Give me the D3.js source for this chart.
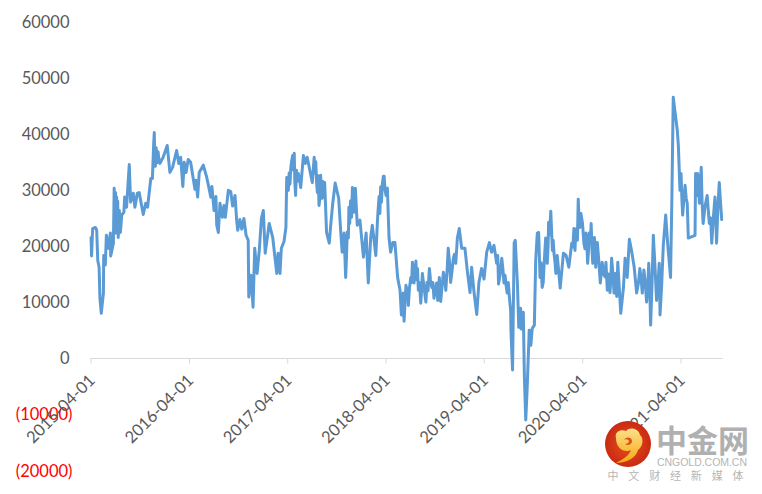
<!DOCTYPE html>
<html>
<head>
<meta charset="utf-8">
<script src="https://cdn.jsdelivr.net/npm/d3@7"></script>
<style>
html,body{margin:0;padding:0;background:#fff;}
svg{display:block;}
</style>
</head>
<body>
<svg id="chart" width="762" height="494"></svg>
<script>
const startDate = "2015-04-01";
const lastAxisDay = 2348;
const tickDates = ["2015-04-01","2016-04-01","2017-04-01","2018-04-01","2019-04-01","2020-04-01","2021-04-01"];
const yTicks = [-20000,-10000,0,10000,20000,30000,40000,50000,60000];
// days since startDate
const dayOffsets = [2,4,8,18,23,27,32,35,40,48,49,55,59,66,74,75,85,88,95,97,103,107,111,116,124,127,134,144,149,159,165,174,181,196,205,212,224,230,237,241,251,258,270,285,295,305,320,328,335,343,348,355,363,372,388,392,398,404,419,432,447,451,459,466,469,475,481,490,496,501,512,521,528,537,543,547,555,562,570,578,586,588,596,604,610,619,627,635,642,649,664,677,692,697,704,709,719,726,729,735,744,751,757,762,772,781,791,798,805,824,831,840,849,855,861,870,877,887,893,900,909,922,931,935,942,948,958,960,970,973,979,984,991,1001,1014,1024,1032,1041,1047,1060,1067,1072,1075,1088,1091,1098,1103,1109,1115,1123,1131,1141,1150,1155,1162,1165,1172,1181,1190,1196,1202,1209,1218,1227,1233,1246,1259,1268,1276,1286,1290,1296,1301,1311,1320,1329,1338,1348,1357,1363,1370,1379,1391,1401,1410,1416,1425,1435,1443,1453,1462,1472,1482,1490,1499,1509,1513,1516,1528,1536,1540,1548,1552,1561,1562,1568,1574,1578,1586,1591,1598,1600,1608,1612,1617,1622,1630,1636,1641,1649,1654,1660,1665,1670,1678,1686,1691,1697,1702,1710,1716,1722,1729,1734,1745,1757,1767,1777,1788,1796,1800,1806,1812,1818,1822,1833,1841,1847,1853,1860,1866,1872,1877,1883,1894,1901,1908,1915,1920,1930,1936,1945,1949,1955,1959,1970,1980,1986,1994,2002,2010,2020,2029,2041,2050,2056,2066,2074,2081,2091,2103,2113,2116,2128,2137,2144,2155,2160,2165,2171,2180,2184,2190,2194,2200,2209,2217,2221,2246,2248,2256,2262,2269,2276,2291,2299,2308,2320,2326,2336,2345];
const seriesValues = [21500,18200,23100,23300,22800,17400,16200,10700,8000,11600,18300,16600,21900,19600,22300,18200,20500,30300,22300,28700,21500,26300,22400,25500,26000,28700,26900,34500,27800,29400,26900,29400,29500,25600,27600,26900,32000,32000,40200,34200,36800,34700,35800,37900,33100,34000,37000,34700,35800,30600,34900,33100,35400,34900,30100,31700,28700,33100,34400,32200,28700,30600,26300,28800,23700,22400,27600,25100,27200,25100,29900,29700,27100,29000,24600,22800,24700,23000,24900,21900,21000,10900,14800,9100,19600,15100,19200,24900,26300,18700,24000,21500,15100,18700,15100,19600,20800,23300,32200,29900,33800,36100,36500,29000,32900,30400,36100,34700,35800,31300,35800,31200,27200,32600,28500,31300,22400,20500,24000,27600,31200,28500,21500,18900,22300,14400,21400,26900,25100,30400,26000,30300,23700,24600,18000,22300,13400,21500,23700,18300,25300,28800,25800,32400,32400,29000,30300,21500,18900,20600,20600,14400,12100,7700,11600,6600,13000,9400,14400,17100,13400,17300,12100,9800,15100,10000,16000,12600,10700,13400,10300,14400,10100,15300,12100,19600,13500,17800,16900,21400,23100,19600,19600,15100,11700,16200,11700,7800,13500,16000,14100,18900,20600,18900,20100,16900,18300,13200,17800,13400,14800,11600,13500,8500,5000,-2100,20500,21000,13400,5500,8900,5200,8200,-3400,-11000,-5700,5000,2300,5300,5900,17400,22300,22400,14400,12600,17400,21400,16900,24200,26200,19200,18700,15100,18300,12500,18700,18300,16200,20500,23100,19200,22400,28300,23300,25800,20500,22300,16900,22300,24000,16900,21500,16200,20600,13400,17100,14800,17100,12100,11700,17800,11600,15100,11000,17100,8000,12600,17800,14400,21200,19200,16200,11600,16000,11600,15700,10000,16900,5900,21900,10300,16900,7700,20100,25500,20600,14400,28700,46500,44100,40600,37900,29900,32900,25500,30800,27600,21400,21900,32900,32900,27600,34000,24000,29000,24000,20500,28700,20500,31300,24700];
// further readings from the noisy stretches of the line
const detailDays = [91,93,99,101,105,109,113,233,235,239,244,247,254,731,733,738,741,747,754,759,765,768,776,834,837,843,846,852,858,864,867,951,954,963,966,976,1078,1081,1084,1094,1158,1175,1178,1185,1193,1199,1205,1212,1215,1222,1230,1238,1242,1250,1254,1263,1272,1281,1306,1316,1325,1334,1343,1352,1522,1532,1544,1556,1595,1603,1606,1674,1682,1694,1700,1706,1719,1726,1792,1803,1809,1815,1828,1837,1844,1850,1857,1863,1869,1875,1880,1889,1897,1904,1912,1925,1933,1941,1952,2036,2045,2061,2070,2078,2086,2097,2108,2122,2197,2204,2213,2252,2259,2265,2272,2283,2295,2304,2314,2323,2331,2341];
const detailValues = [24000,29500,23000,28000,23500,25000,23500,36000,38500,35000,37500,34800,35500,30500,31500,33000,31000,35000,33500,31500,33500,31500,32000,33000,35000,29500,32500,28500,30000,31500,28800,18000,22500,24000,28000,27000,30500,27800,31000,30000,10500,10800,12500,12500,13500,15500,15000,14000,16000,13500,12000,13000,11500,13500,12000,14000,13500,12200,12800,14000,15800,17000,15500,18500,15000,16000,13000,11000,7000,7500,5800,17000,13500,18000,20000,22000,21000,17000,19800,23000,21000,25000,24000,19500,20500,19000,21000,19500,19000,20000,18500,17000,15000,16000,14500,15000,14000,15000,14000,13500,14500,13500,12500,12000,13000,16500,13000,13000,28500,28000,28500,29000,31000,30000,28000,27000,26500,25000,25000,25000,27000,27500];
const logoName = "中金网";
const logoSite = "CNGOLD.COM.CN";
const logoTagline = ["中","文","财","经","新","媒","体"];

const parse = d3.utcParse("%Y-%m-%d");
const start = parse(startDate);
const svg = d3.select("#chart");

const x = d3.scaleUtc().domain([start, d3.utcDay.offset(start, lastAxisDay)]).range([90.5, 722.5]);
const y = d3.scaleLinear().domain([-20000, 60000]).range([470.5, 21.4]);
const font = "Lato, 'Open Sans', sans-serif";

// value labels
const yAxis = d3.axisLeft(y).tickValues(yTicks).tickSize(0).tickPadding(0)
  .tickFormat(v => v < 0 ? "(" + Math.abs(v) + ")" : String(v));
const gy = svg.append("g").attr("transform", "translate(69.5,0)").call(yAxis);
gy.select(".domain").remove();
gy.selectAll("text")
  .attr("font-family", font).attr("font-size", 16.5)
  .attr("dy", "0.34em")
  .attr("x", d => d < 0 ? 3 : 0)
  .attr("fill", d => d < 0 ? "#ff0000" : "#595959");

// category axis on the zero line
const xAxis = d3.axisBottom(x).tickValues(tickDates.map(parse)).tickSize(5).tickPadding(0)
  .tickFormat(d3.utcFormat("%Y-%m-%d"));
const gx = svg.append("g").attr("transform", `translate(0,${Math.round(y(0)) + 0.5})`).call(xAxis);
gx.select(".domain").attr("stroke", "#d9d9d9").attr("d", `M${x.range()[0]},0.5V0H${x.range()[1]}`);
gx.selectAll(".tick line").attr("stroke", "#d9d9d9");
gx.selectAll("text")
  .attr("font-family", font).attr("font-size", 16.5).attr("fill", "#595959")
  .attr("text-anchor", "end")
  .attr("transform", "translate(1,19) rotate(-45)")
  .attr("dy", "0.34em").attr("y", 0).attr("x", 0);

// series
const rows = dayOffsets.map((d, i) => ({ day: d, value: seriesValues[i] }))
  .concat(detailDays.map((d, i) => ({ day: d, value: detailValues[i] })))
  .sort((a, b) => a.day - b.day)
  .map(r => ({ date: d3.utcDay.offset(start, r.day), value: r.value }));
const line = d3.line().x(d => x(d.date)).y(d => y(d.value));
svg.append("path").datum(rows)
  .attr("d", line).attr("fill", "none")
  .attr("stroke", "#5b9bd5").attr("stroke-width", 3)
  .attr("stroke-linejoin", "round").attr("stroke-linecap", "round");

// watermark
const defs = svg.append("defs");
const grad = defs.append("radialGradient").attr("id", "logoRed");
grad.append("stop").attr("offset", "0%").attr("stop-color", "#e8501a");
grad.append("stop").attr("offset", "100%").attr("stop-color", "#c92a12");
const goldGrad = defs.append("linearGradient").attr("id", "logoGold").attr("x1", 0).attr("y1", 0).attr("x2", 0).attr("y2", 1);
goldGrad.append("stop").attr("offset", "0%").attr("stop-color", "#fde089");
goldGrad.append("stop").attr("offset", "100%").attr("stop-color", "#f7a814");

const logo = svg.append("g").attr("transform", "translate(628,444)");
logo.append("circle").attr("r", 23).attr("fill", "url(#logoRed)");
logo.append("path")
  .attr("d", "M-12,-6C-14,-13 -6,-15 -2,-13C2,-18 11,-15 12,-9C16,-6 15,3 10,6C8,14 -2,19 -12,19C-5,15 1,12 3,6C-3,9 -12,5 -12,-6Z")
  .attr("fill", "url(#logoGold)");
logo.append("path")
  .attr("d", "M-4,-4C-2,-8 4,-7 4,-3C4,1 -1,2 -3,0C-1,0 1,-1 1,-3C0,-5 -3,-5 -4,-4Z")
  .attr("fill", "#d9541a");

svg.append("text").text(logoName)
  .attr("x", 656).attr("y", 452)
  .attr("font-family", "'Noto Sans CJK SC'").attr("font-weight", 700)
  .attr("font-size", 31).attr("fill", "#b0b0b0");
svg.append("text").text(logoSite)
  .attr("x", 657).attr("y", 466)
  .attr("font-family", "'Liberation Sans'").attr("font-size", 10.5)
  .attr("textLength", 90).attr("fill", "#b5b5b5");
const tagX = d3.scalePoint().domain(logoTagline).range([613, 738]);
svg.append("g").selectAll("text").data(logoTagline).join("text")
  .text(d => d)
  .attr("x", d => tagX(d)).attr("y", 480)
  .attr("text-anchor", "middle")
  .attr("font-family", "'Noto Sans CJK SC'").attr("font-size", 11)
  .attr("fill", "#b5b5b5");
</script>
</body>
</html>
